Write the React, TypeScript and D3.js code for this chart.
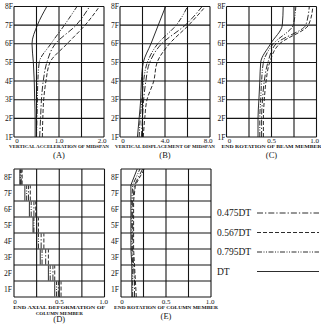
import React from 'react';
import * as d3 from 'd3';

// ---- data ----
const floors = [1, 2, 3, 4, 5, 6, 7, 8];
const floorLabels = ['1F', '2F', '3F', '4F', '5F', '6F', '7F', '8F'];
const levels = [0, 1, 2, 3, 4, 5, 6, 7, 8];
const seriesNames = ['0.475DT', '0.567DT', '0.795DT', 'DT'];

// (A) vertical acceleration of midspan
const acc475 = [0.57, 0.59, 0.61, 0.65, 0.73, 0.92, 1.38, 1.68];
const acc567 = [0.63, 0.64, 0.66, 0.71, 0.8, 1.18, 1.58, 1.9];
const acc795 = [0.5, 0.51, 0.52, 0.53, 0.56, 0.82, 1.12, 1.4];
const accDT = [0.47, 0.47, 0.46, 0.45, 0.43, 0.4, 0.52, 0.73];
const accTicks = ['0', '1.0', '2.0'];

// (B) vertical displacement of midspan
const disp475 = [1.9, 2.0, 2.1, 2.3, 2.64, 3.7, 5.8, 7.3];
const disp567 = [2.07, 2.2, 2.4, 3.0, 3.3, 4.4, 6.1, 7.6];
const disp795 = [1.7, 1.8, 1.95, 2.1, 2.43, 3.35, 5.0, 6.0];
const dispDT = [1.55, 1.7, 1.84, 1.9, 2.07, 2.75, 3.4, 4.05];
const dispTicks = ['0', '4.0', '8.0'];

// (C) end rotation of beam member
const rot475 = [0.39, 0.39, 0.4, 0.42, 0.46, 0.55, 0.88, 0.92];
const rot567 = [0.41, 0.41, 0.42, 0.44, 0.48, 0.59, 0.91, 0.96];
const rot795 = [0.37, 0.37, 0.38, 0.39, 0.41, 0.52, 0.74, 0.77];
const rotDT = [0.35, 0.35, 0.36, 0.37, 0.38, 0.49, 0.62, 0.63];
const unitTicks = ['0', '0.5', '1.0'];

// (D) end axial deformation of column member (per storey)
const axl475 = [0.49, 0.43, 0.35, 0.3, 0.25, 0.22, 0.16, 0.08];
const axl567 = [0.52, 0.45, 0.38, 0.33, 0.27, 0.24, 0.18, 0.09];
const axl795 = [0.47, 0.4, 0.31, 0.27, 0.22, 0.19, 0.14, 0.07];
const axlDT = [0.45, 0.38, 0.29, 0.25, 0.21, 0.17, 0.12, 0.065];

// (E) end rotation of column member (at storey boundaries)
const col475 = [0.15, 0.15, 0.14, 0.13, 0.13, 0.13, 0.13, 0.15, 0.24];
const col567 = [0.17, 0.16, 0.15, 0.14, 0.14, 0.14, 0.14, 0.16, 0.26];
const col795 = [0.13, 0.13, 0.13, 0.12, 0.12, 0.12, 0.12, 0.13, 0.21];
const colDT = [0.12, 0.12, 0.12, 0.11, 0.11, 0.11, 0.11, 0.11, 0.18];

const dashes = ['6,2,1.3,2', '4,2', '5,1.5,1,1.5,1,1.5', null];

const INK = '#151515';
const FONT = '"Liberation Serif", "Times New Roman", serif';

type ProfileProps = {
  x0: number; x1: number; y0: number; y1: number;
  max: number; ticks: string[]; series: number[][];
  title: string; letter: string;
};

function ProfilePanel({ x0, x1, y0, y1, max, ticks, series, title, letter }: ProfileProps) {
  const x = d3.scaleLinear().domain([0, max]).range([x0, x1]);
  const y = d3.scaleLinear().domain([1, 8]).range([y1, y0]);
  const gridX = d3.range(0, max + 1e-9, max / 4);
  const line = d3.line<number>()
    .x((d) => x(d))
    .y((_, i) => y(floors[i]))
    .curve(d3.curveMonotoneY);
  const mid = (x0 + x1) / 2;
  return (
    <g>
      {floors.map((f) => (
        <line key={'h' + f} x1={x0} x2={x1} y1={y(f)} y2={y(f)} stroke={INK} strokeWidth={1.1} />
      ))}
      {gridX.map((v) => (
        <line key={'v' + v} x1={x(v)} x2={x(v)} y1={y0} y2={y1} stroke={INK} strokeWidth={1.1} />
      ))}
      {floors.map((f, i) => (
        <text key={'l' + f} x={x0 - 1} y={y(f) + 2.5} fontSize={7.5} textAnchor="end" fontFamily={FONT} fill={INK}>
          {floorLabels[i]}
        </text>
      ))}
      <text x={x(0) + 3} y={y1 + 5.5} fontSize={7} textAnchor="middle" fontFamily={FONT} fill={INK}>{ticks[0]}</text>
      <text x={x(max / 2)} y={y1 + 5.5} fontSize={7} textAnchor="middle" fontFamily={FONT} fill={INK}>{ticks[1]}</text>
      <text x={x(max) - 2} y={y1 + 5.5} fontSize={7} textAnchor="middle" fontFamily={FONT} fill={INK}>{ticks[2]}</text>
      {series.map((s, k) => (
        <path key={'s' + k} d={line(s) || ''} fill="none" stroke={INK} strokeWidth={0.9}
          strokeDasharray={dashes[k] || undefined} />
      ))}
      <text x={mid} y={y1 + 11} fontSize={5} textAnchor="middle" fontFamily={FONT} fill={INK}
        textLength={x1 - x0 + 10} lengthAdjust="spacingAndGlyphs" fontWeight="bold">{title}</text>
      <text x={mid} y={y1 + 20.5} fontSize={8.5} textAnchor="middle" fontFamily={FONT} fill={INK}>{letter}</text>
    </g>
  );
}

type BandProps = {
  x0: number; x1: number; y0: number; y1: number;
  series: number[][]; mode: 'storey' | 'level';
  titles: string[]; letter: string; letterY: number; titleW: number;
};

function BandPanel({ x0, x1, y0, y1, series, mode, titles, letter, letterY, titleW }: BandProps) {
  const x = d3.scaleLinear().domain([0, 1]).range([x0, x1]);
  const y = d3.scaleLinear().domain([0, 8]).range([y1, y0]);
  const gridX = d3.range(0, 1.0001, 0.25);
  const mid = (x0 + x1) / 2;
  const line = d3.line<number>()
    .x((d) => x(d))
    .y((_, i) => y(levels[i]))
    .curve(d3.curveLinear);
  return (
    <g>
      {levels.map((l) => (
        <line key={'h' + l} x1={x0} x2={x1} y1={y(l)} y2={y(l)} stroke={INK} strokeWidth={1.1} />
      ))}
      {gridX.map((v) => (
        <line key={'v' + v} x1={x(v)} x2={x(v)} y1={y0} y2={y1} stroke={INK} strokeWidth={1.1} />
      ))}
      {floors.map((f, i) => (
        <text key={'l' + f} x={x0 - 2} y={y(f - 0.5) + 2.5} fontSize={7.5} textAnchor="end" fontFamily={FONT} fill={INK}>
          {floorLabels[i]}
        </text>
      ))}
      <text x={x(0) + 1} y={y1 + 6.5} fontSize={7} textAnchor="middle" fontFamily={FONT} fill={INK}>{unitTicks[0]}</text>
      <text x={x(0.5)} y={y1 + 6.5} fontSize={7} textAnchor="middle" fontFamily={FONT} fill={INK}>{unitTicks[1]}</text>
      <text x={x(1) - 1} y={y1 + 6.5} fontSize={7} textAnchor="middle" fontFamily={FONT} fill={INK}>{unitTicks[2]}</text>
      {mode === 'storey'
        ? series.map((s, k) =>
            s.map((v, i) => (
              <line key={'s' + k + '-' + i} x1={x(v)} x2={x(v)} y1={y(floors[i] - 1) - 0.5} y2={y(floors[i]) + 0.5}
                stroke={INK} strokeWidth={0.9} strokeDasharray={dashes[k] || undefined} />
            )))
        : series.map((s, k) => (
            <path key={'s' + k} d={line(s) || ''} fill="none" stroke={INK} strokeWidth={0.9}
              strokeDasharray={dashes[k] || undefined} />
          ))}
      {titles.map((t, i) => (
        <text key={'t' + i} x={mid} y={y1 + 12 + i * 5.5} fontSize={5} textAnchor="middle" fontFamily={FONT} fill={INK}
          fontWeight="bold" textLength={i === 0 ? titleW : undefined} lengthAdjust="spacingAndGlyphs">{t}</text>
      ))}
      <text x={mid} y={letterY} fontSize={8.5} textAnchor="middle" fontFamily={FONT} fill={INK}>{letter}</text>
    </g>
  );
}

export default function App() {
  const legendY = [213, 232.5, 252, 271.5];
  return (
    <svg width={321} height={328} style={{ position: 'absolute', left: 0, top: 0, background: '#fff' }}>
      <rect width={321} height={328} fill="#fff" />
      <ProfilePanel x0={14} x1={104} y0={6.5} y1={137} max={2} ticks={accTicks}
        series={[acc475, acc567, acc795, accDT]} title="VERTICAL ACCELERATION OF MIDSPAN" letter="(A)" />
      <ProfilePanel x0={120} x1={210} y0={6.5} y1={137} max={8} ticks={dispTicks}
        series={[disp475, disp567, disp795, dispDT]} title="VERTICAL DISPLACEMENT OF MIDSPAN" letter="(B)" />
      <ProfilePanel x0={226.5} x1={316.5} y0={6.5} y1={137} max={1} ticks={unitTicks}
        series={[rot475, rot567, rot795, rotDT]} title="END ROTATION OF BEAM MEMBER" letter="(C)" />
      <BandPanel x0={14} x1={104.5} y0={169} y1={297} mode="storey"
        series={[axl475, axl567, axl795, axlDT]} titles={['END AXIAL DEFORMATION OF', 'COLUMN MEMBER']}
        letter="(D)" letterY={322} titleW={92} />
      <BandPanel x0={121} x1={211} y0={169} y1={297} mode="level"
        series={[col475, col567, col795, colDT]} titles={['END ROTATION OF COLUMN MEMBER']}
        letter="(E)" letterY={318.5} titleW={104} />
      {seriesNames.map((n, k) => (
        <g key={n}>
          <text x={217} y={legendY[k] + 3.3} fontSize={9.5} fontFamily={FONT} fill={INK}>{n}</text>
          <line x1={257} x2={319} y1={legendY[k]} y2={legendY[k]} stroke={INK} strokeWidth={0.9}
            strokeDasharray={dashes[k] || undefined} />
        </g>
      ))}
    </svg>
  );
}
